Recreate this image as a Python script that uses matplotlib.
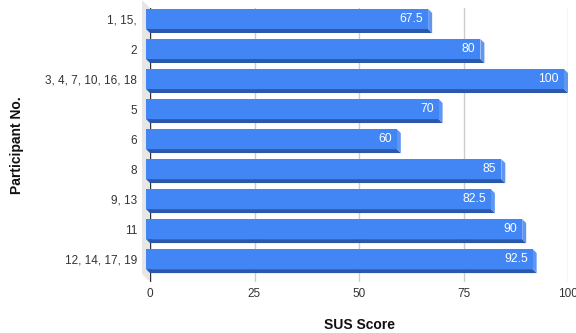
import matplotlib.pyplot as plt
from matplotlib.patches import Polygon

participants = ["1, 15,", "2", "3, 4, 7, 10, 16, 18", "5", "6", "8", "9, 13", "11", "12, 14, 17, 19"]
sus_scores = [67.5, 80, 100, 70, 60, 85, 82.5, 90, 92.5]
x_ticks = [0, 25, 50, 75, 100]

plt.rcParams['font.family'] = ['Liberation Sans', 'DejaVu Sans']

W, H = 576, 333
fig = plt.figure(figsize=(W / 100, H / 100), dpi=100)
# axes box in pixels: left 150, right 568, top 8, bottom 282
ax = fig.add_axes([150 / W, (H - 282) / H, 418 / W, 274 / H])
ymax = len(participants) - 0.5 + 0.13
ax.set_xlim(0, 100)
ax.set_ylim(ymax, -0.5)

ux = 100 / 418            # data units per pixel (x)
uy = (ymax + 0.5) / 274   # data units per pixel (y, grows downward)
d = 4                     # 3d depth in px
bh = 20 * uy

face = "#4285f4"
bottom = "#2c58aa"
side = "#5f96f2"

# grey side wall at x=0
top, bot = -0.5, ymax
wall = [(0, top), (-8 * ux, top - 8 * uy), (-8 * ux, bot - 8 * uy), (0, bot)]
ax.add_patch(Polygon(wall, closed=True, fc="#e6e6e6", ec="none", zorder=0, clip_on=False))

for t in x_ticks[1:]:
    ax.axvline(t, color="#cccccc", lw=1, zorder=1)
ax.axvline(0, color="#333333", lw=1, zorder=1)

for i, v in enumerate(sus_scores):
    y0, y1 = i - bh / 2, i + bh / 2
    fx, fy = -d * ux, -d * uy
    front = [(fx, y0 + fy), (v + fx, y0 + fy), (v + fx, y1 + fy), (fx, y1 + fy)]
    under = [(fx, y1 + fy), (v + fx, y1 + fy), (v, y1), (0, y1)]
    right = [(v + fx, y0 + fy), (v, y0), (v, y1), (v + fx, y1 + fy)]
    ax.add_patch(Polygon(under, closed=True, fc=bottom, ec="none", zorder=3, clip_on=False))
    ax.add_patch(Polygon(right, closed=True, fc=side, ec="none", zorder=3, clip_on=False))
    ax.add_patch(Polygon(front, closed=True, fc=face, ec="none", zorder=4, clip_on=False))
    ax.text(v + fx - 5 * ux, i + fy, f"{v:g}", ha="right", va="center",
            color="white", fontsize=8.7, zorder=5)

ax.set_yticks([i - d * uy for i in range(len(participants))])
ax.set_yticklabels(participants)
ax.set_xticks(x_ticks)
ax.tick_params(axis="y", length=0, pad=9.4, labelsize=8.5, labelcolor="#333333")
ax.tick_params(axis="x", length=0, pad=4.5, labelsize=8.5, labelcolor="#333333")
for s in ax.spines.values():
    s.set_visible(False)

fig.text(359 / W, 1 - 325 / H, "SUS Score", ha="center", va="center",
         fontsize=10, fontweight="bold", color="#111111")
fig.text(17 / W, 1 - 145 / H, "Participant No.", ha="center", va="center",
         rotation=90, fontsize=10, fontweight="bold", color="#111111")

fig.savefig("out.png", dpi=100)
